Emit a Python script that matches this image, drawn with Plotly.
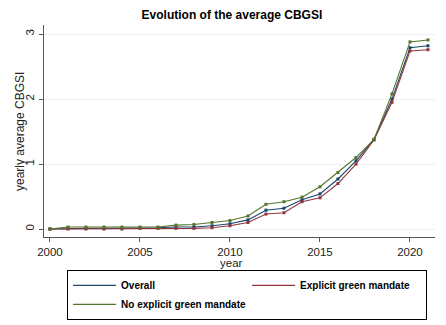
import plotly.graph_objects as go

years = list(range(2000, 2022))
overall = [0.0, 0.01, 0.01, 0.01, 0.01, 0.02, 0.02, 0.03, 0.03, 0.05, 0.08, 0.14, 0.29, 0.32, 0.45, 0.54, 0.77, 1.05, 1.38, 2.0, 2.79, 2.82]
explicit = [0.0, 0.0, 0.0, 0.0, 0.0, 0.01, 0.01, 0.01, 0.01, 0.02, 0.05, 0.10, 0.23, 0.25, 0.42, 0.48, 0.70, 1.0, 1.37, 1.95, 2.74, 2.76]
no_explicit = [0.0, 0.03, 0.03, 0.03, 0.03, 0.03, 0.03, 0.06, 0.07, 0.10, 0.13, 0.20, 0.38, 0.42, 0.49, 0.65, 0.87, 1.1, 1.38, 2.08, 2.88, 2.91]

series = [
    ("Overall", overall, "#1a476f"),
    ("Explicit green mandate", explicit, "#90353b"),
    ("No explicit green mandate", no_explicit, "#55752f"),
]

fig = go.Figure()
for name, vals, col in series:
    fig.add_trace(go.Scatter(
        x=years, y=vals, name=name, mode="lines+markers", showlegend=False,
        line=dict(color=col, width=1.1),
        marker=dict(color=col, size=3, symbol="square"),
    ))
for name, vals, col in series:
    fig.add_trace(go.Scatter(
        x=[None], y=[None], name=name, mode="lines", showlegend=True,
        line=dict(color=col, width=1.1),
    ))

axis_font = dict(family="Liberation Sans, Arial, sans-serif", size=11.5, color="#222")
fig.update_layout(
    width=446, height=325,
    margin=dict(l=44, r=11, t=25, b=88, autoexpand=False),
    paper_bgcolor="white", plot_bgcolor="white",
    font=axis_font,
    title=dict(text="<b>Evolution of the average CBGSI</b>", x=0.52, xanchor="center",
               y=0.955, yanchor="middle", font=dict(size=12, color="#000")),
    showlegend=True,
    legend=dict(orientation="h", x=0.059, xanchor="left", y=-0.155, yanchor="top",
                bordercolor="#000", borderwidth=1, entrywidth=121, entrywidthmode="pixels",
                itemwidth=43, tracegroupgap=0,
                font=dict(size=10, color="#000", family="Liberation Sans, Arial, sans-serif", weight="bold")),
    annotations=[
        dict(text="year", xref="paper", yref="paper", x=0.48, y=-0.1226,
             xanchor="center", yanchor="middle", showarrow=False, font=dict(size=11.5, color="#222")),
        dict(text="yearly average CBGSI", xref="paper", yref="paper", x=-0.0614, y=0.5,
             xanchor="center", yanchor="middle", textangle=-90, showarrow=False,
             font=dict(size=12, color="#222")),
    ],
)
fig.update_xaxes(
    range=[1999.67, 2021.39], tickvals=[2000, 2005, 2010, 2015, 2020],
    showgrid=False, zeroline=False, showline=True, linecolor="#555", linewidth=1.2,
    ticks="outside", ticklen=4, tickcolor="#555",
)
fig.update_yaxes(
    range=[-0.123, 3.14], tickvals=[0, 1, 2, 3], tickangle=-90,
    showgrid=True, gridcolor="#eaf2f3", gridwidth=1, zeroline=False,
    showline=True, linecolor="#555", linewidth=1.2,
    ticks="outside", ticklen=4, tickcolor="#555",
)
fig.write_html("out.html")
